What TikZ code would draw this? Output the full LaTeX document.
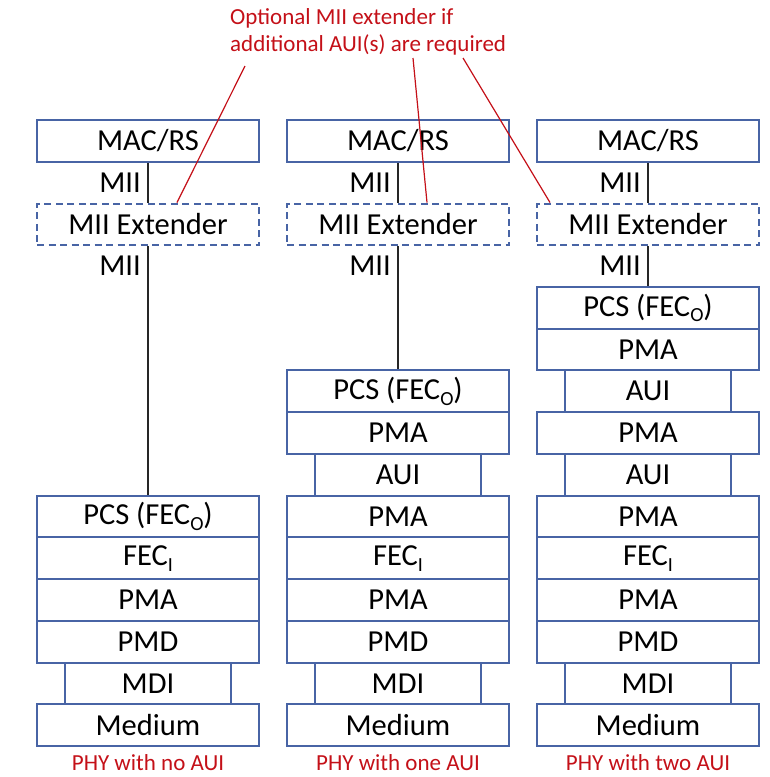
\documentclass[tikz,border=0pt]{standalone}
\usepackage{fontspec}
\setmainfont{Carlito}
\usetikzlibrary{calc}
\definecolor{boxblue}{RGB}{72,100,165}
\definecolor{notered}{RGB}{196,16,24}
\newcommand{\subO}{\raisebox{-0.4ex}{\fontsize{20}{20}\selectfont O}}
\newcommand{\subI}{\raisebox{-0.4ex}{\fontsize{20}{20}\selectfont I}}
\tikzset{
  layer/.style={draw=boxblue, line width=2pt, fill=white, minimum width=222pt, minimum height=41.7pt, inner sep=0pt, font=\fontsize{30.5}{33}\selectfont, text=black},
  narrow/.style={layer, minimum width=166pt},
  extbox/.style={layer, dashed, dash pattern=on 7pt off 4.5pt},
  miilbl/.style={anchor=east, inner sep=0pt, font=\fontsize{30.5}{33}\selectfont},
  link/.style={draw=black!85, line width=2pt},
  note/.style={draw=notered, line width=1.2pt},
  notetext/.style={text=notered, font=\fontsize{23}{27}\selectfont, inner sep=0pt}
}
\begin{document}
\begin{tikzpicture}[x=1pt,y=-1pt]
\useasboundingbox (0,0) rectangle (770,777);
\def\s{41.73}
% column centers: 148, 398, 648
% ---- column 1
\node[layer] (mac1) at (148,{725.14-14*\s}) {MAC/RS};
\node[extbox] (ext1) at (148,{725.14-12*\s}) {MII Extender};
\node[layer] (pcs1) at (148,{725.14-5*\s}) {PCS (FEC\subO)};
\node[layer] (fec1) at (148,{725.14-4*\s}) {FEC\subI};
\node[layer] (pma1) at (148,{725.14-3*\s}) {PMA};
\node[layer] (pmd1) at (148,{725.14-2*\s}) {PMD};
\node[narrow] (mdi1) at (148,{725.14-1*\s}) {MDI};
\node[layer] (med1) at (148,{725.14}) {Medium};
% ---- column 2
\node[layer] (mac2) at (398,{725.14-14*\s}) {MAC/RS};
\node[extbox] (ext2) at (398,{725.14-12*\s}) {MII Extender};
\node[layer] (pcs2) at (398,{725.14-8*\s}) {PCS (FEC\subO)};
\node[layer] (pmaa2) at (398,{725.14-7*\s}) {PMA};
\node[narrow] (aui2) at (398,{725.14-6*\s}) {AUI};
\node[layer] (pmab2) at (398,{725.14-5*\s}) {PMA};
\node[layer] (fec2) at (398,{725.14-4*\s}) {FEC\subI};
\node[layer] (pma2) at (398,{725.14-3*\s}) {PMA};
\node[layer] (pmd2) at (398,{725.14-2*\s}) {PMD};
\node[narrow] (mdi2) at (398,{725.14-1*\s}) {MDI};
\node[layer] (med2) at (398,{725.14}) {Medium};
% ---- column 3
\node[layer] (mac3) at (648,{725.14-14*\s}) {MAC/RS};
\node[extbox] (ext3) at (648,{725.14-12*\s}) {MII Extender};
\node[layer] (pcs3) at (648,{725.14-10*\s}) {PCS (FEC\subO)};
\node[layer] (pmaa3) at (648,{725.14-9*\s}) {PMA};
\node[narrow] (auia3) at (648,{725.14-8*\s}) {AUI};
\node[layer] (pmab3) at (648,{725.14-7*\s}) {PMA};
\node[narrow] (auib3) at (648,{725.14-6*\s}) {AUI};
\node[layer] (pmac3) at (648,{725.14-5*\s}) {PMA};
\node[layer] (fec3) at (648,{725.14-4*\s}) {FEC\subI};
\node[layer] (pma3) at (648,{725.14-3*\s}) {PMA};
\node[layer] (pmd3) at (648,{725.14-2*\s}) {PMD};
\node[narrow] (mdi3) at (648,{725.14-1*\s}) {MDI};
\node[layer] (med3) at (648,{725.14}) {Medium};
% ---- MII links
\draw[link] (mac1.south) -- (ext1.north);
\draw[link] (ext1.south) -- (pcs1.north);
\draw[link] (mac2.south) -- (ext2.north);
\draw[link] (ext2.south) -- (pcs2.north);
\draw[link] (mac3.south) -- (ext3.north);
\draw[link] (ext3.south) -- (pcs3.north);
% ---- MII labels
\node[miilbl] (m1a) at (141,{725.14-13*\s}) {MII};
\node[miilbl] (m1b) at (141,{725.14-11*\s}) {MII};
\node[miilbl] (m2a) at (391,{725.14-13*\s}) {MII};
\node[miilbl] (m2b) at (391,{725.14-11*\s}) {MII};
\node[miilbl] (m3a) at (641,{725.14-13*\s}) {MII};
\node[miilbl] (m3b) at (641,{725.14-11*\s}) {MII};
% ---- note
\node[notetext, align=left, anchor=west] (note) at (230,32) {Optional MII extender if\\additional AUI(s) are required};
\coordinate (n1) at (245,66);
\coordinate (n2) at (413,58);
\coordinate (n3) at (463,58);
\draw[note] (n1) -- ([xshift=29pt]ext1.north);
\draw[note] (n2) -- ([xshift=29pt]ext2.north);
\draw[note] (n3) -- ([xshift=-98pt]ext3.north);
% ---- captions
\node[notetext] (c1) at (148,763) {PHY with no AUI};
\node[notetext] (c2) at (398,763) {PHY with one AUI};
\node[notetext] (c3) at (648,763) {PHY with two AUI};
\end{tikzpicture}
\end{document}
